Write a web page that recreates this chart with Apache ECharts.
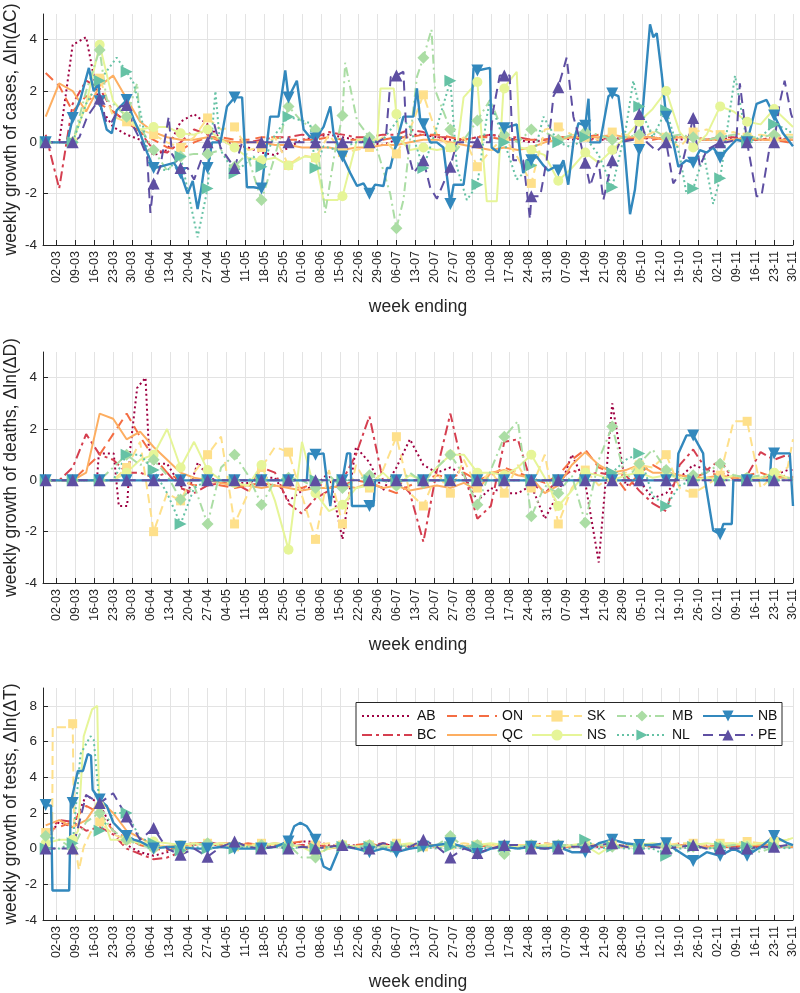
<!DOCTYPE html>
<html><head><meta charset="utf-8">
<script src="https://cdn.jsdelivr.net/npm/echarts@6/dist/echarts.min.js"></script>
<style>html,body{margin:0;padding:0;background:#fff}#chart{width:800px;height:993px}</style>
</head><body><div id="chart"></div>
<script>
// ---- tick labels (week ending) ----
const tickLabels = ['02-03','09-03','16-03','23-03','30-03','06-04','13-04','20-04','27-04','04-05','11-05','18-05','25-05','01-06','08-06','15-06','22-06','29-06','06-07','13-07','20-07','27-07','03-08','10-08','17-08','24-08','31-08','07-09','14-09','21-09','28-09','05-10','12-10','19-10','26-10','02-11','09-11','16-11','23-11','30-11'];
// day offsets (relative to 02-03) of the sampled values
const sampleDays = [-4,1,6,11,16,21,26,31,36,41,46,51,56,61,66,71,76,81,86,91,96,101,106,111,116,121,126,131,136,141,146,151,156,161,166,171,176,181,186,191,196,201,206,211,216,221,226,231,236,241,246,251,256,261,266,271,273];
const provinces = ['AB','BC','ON','QC','SK','NS','MB','NL','NB','PE'];
const yTicksA = [-4,-2,0,2,4];
const yTicksT = [-4,-2,0,2,4,6,8];

// ---- weekly growth of cases ----
const cases_AB = [0,0,3.8,4.1,1.4,0.6,0.3,0.1,-0.5,-0.3, 0.8,1.1,0.7,0.1,-0.1,-0.2,-0.4,-0.5,-0.2,0.1, 0.2,0.3,0.2,0.1,0.0,-0.1,0.1,0.3,0.3,0.2, 0.1,0.1,0.2,0.3,0.2,0.1,0.0,0.1,0.2,0.1, 0.2,0.1,0.1,0.2,0.1,0.2,0.1,0.1,0.2,0.1, 0.1,0.2,0.1,0.1,0.2,0.1,0.1];
const cases_BC = [0.3,-1.8,1.5,2.4,2.1,1.2,0.8,0.4,-0.3,-0.4, 0.0,0.5,0.3,0.0,0.0,0.0,0.1,0.2,0.2,0.3, 0.2,0.4,0.3,0.2,0.2,0.3,0.3,0.5,0.4,0.2, 0.2,0.1,0.2,0.3,0.2,0.2,0.1,0.1,0.2,0.2, 0.1,0.1,0.2,0.1,0.2,0.2,0.1,0.2,0.2,0.1, 0.2,0.2,0.1,0.1,0.2,0.1,0.1];
const cases_ON = [2.7,2.2,1.2,1.8,1.5,1.2,0.8,0.4,0.1,-0.2, -0.3,0.0,0.2,0.2,0.1,0.1,0.2,0.2,0.1,0.1, 0.1,0.2,0.1,0.1,0.1,0.1,0.2,0.2,0.3,0.3, 0.2,0.1,0.2,0.2,0.1,0.1,0.1,0.1,0.2,0.2, 0.2,0.3,0.2,0.2,0.2,0.1,0.2,0.2,0.1,0.1, 0.1,0.1,0.1,0.1,0.1,0.0,0.0];
const cases_QC = [1.0,2.3,2.0,1.2,2.2,2.6,1.7,0.8,0.4,0.2, 0.1,0.1,0.2,0.1,0.0,0.0,0.0,-0.1,-0.1,-0.2, -0.2,-0.2,-0.3,-0.2,-0.2,-0.1,-0.1,0.0,0.1,0.1, 0.0,-0.1,-0.2,-0.3,-0.2,-0.3,-0.2,0.0,0.1,0.2, 0.2,0.2,0.3,0.2,0.2,0.2,0.1,0.2,0.2,0.1, 0.1,0.1,0.2,0.1,0.1,0.1,0.1];
const cases_SK = [0,0,0,1.5,2.5,1.0,0.8,0.5,0.3,0.0, -0.2,0.2,0.95,0.5,0.6,-0.3,-0.2,0.2,-0.9,-0.5, -0.6,0.3,-0.4,-0.3,-0.2,0.2,-0.45,0.5,1.85,0.3, -0.2,0.2,-0.95,-0.3,0.2,-0.6,-1.6,0.5,0.6,0.3, 0.2,0.1,0.4,0.3,0.1,0.4,0.2,-0.2,0.4,0.5, 0.3,0.4,0.2,0.3,0.2,0.3,0.3];
const cases_NS_days = [-5,-4,1,6,11,16,21,26,31,36,41,46,51,56,61,66,71,76,81,86,92,96,99,104,106,111.4,116,118.9,120.1,125,126,127.4,131,136,141,146,148.4,150.9,156,159.5,163.2,165.7,166,170.6,171.8,176,181,186,191,196,201,206,211,216,221,226,231,236,241,246,251,256,261,266,271,273];
const cases_NS = [0,0,0,0,1.5,3.8,1.6,1.0,0.5,0.6,0.6,0.35,0.3,0.5,0.1,-0.2,-0.6,-0.7,-0.6,-0.9,-0.55,-0.6,-2.25,-2.25,-2.1,0.1,0.1,0.1,2.1,2.1,1.1,0.1,-0.3,-0.2,-0.3,-0.2,-0.3,1.75,2.35,-2.3,-2.3,2.1,2.1,2.75,-0.2,-0.3,-0.5,-1.5,-1.0,-0.4,-0.8,-0.3,0.2,0.8,1.3,2.0,0.4,-0.2,0.3,1.4,1.2,0.8,0.7,1.3,0.8,0.6];
const cases_MB_days = [-5,-4,1,6,11,16,18.6,21,26,29.9,31,36,41,46,51,56,61,66,70.6,76,80.5,86,91,96,99.6,103,106,107,111.4,116,118.9,123.7,126,128.6,133.6,136,139,140.3,146,148.4,156,160.7,166,171,176,181,186,191,196,201,206,211,216,221,226,231,236,241,246,251,256,261,266,271,273];
const cases_MB = [0,0,0,0,2.0,3.6,1.65,1.5,1.0,2.3,0.6,-0.3,-1.1,-0.55,-0.45,-0.45,-0.3,-0.95,-0.45,-2.25,-0.7,1.4,0.8,0.5,-2.75,-0.5,1.05,3.1,0.85,0.2,-0.3,-2.0,-3.35,-2.25,2.55,3.3,4.4,2.05,0.5,-0.3,0.85,1.65,0.3,0.0,0.5,0.4,0.1,0.3,0.4,0.3,0.1,0.2,0.3,0.5,0.2,0.3,0.2,0.1,0.2,0.3,0.2,0.2,0.3,0.2,0.2];
const cases_NL_days = [-5,-4,1,6,11,16,22.3,26,28.6,31,34.8,41,46,52.3,56,58.9,60.8,66,73,76,81,86,94,96,99,104,111,116,121,127.4,131,136,141,146,148.4,152.1,156,159.5,160.7,166,170.6,176,180.5,186,191,196,201,206,211,213.8,216,221,226,231,233.5,236,240,243.4,246,251.5,256,261,266,271,273];
const cases_NL = [0,0,0,0,1.5,2.4,3.3,2.75,2.3,1.25,-0.95,-1.1,-0.55,-3.7,-1.8,2.0,-0.3,-1.2,-0.55,-0.95,0.3,1.0,0.75,-1.0,-0.15,-0.3,0.0,0.0,0.1,1.0,0.6,-1.0,0.6,2.4,-0.95,-2.25,-1.65,1.0,1.65,0.0,-1.45,-0.9,1.0,0.0,-0.2,0.2,-0.5,-1.75,0.5,2.4,1.4,0.2,1.25,-0.5,-2.0,-1.8,-0.5,-2.4,-1.4,2.6,0.0,0.2,0.7,0.5,0.3];
const cases_NB_days = [-5,-4,1,4,6,8.9,12,13.8,15.6,16,18.6,20.5,22.3,26,28.6,31,33.6,36,38.5,43.5,46,48.6,50.5,52.3,53.6,54.8,56,57.7,60.8,63.2,66,68.8,70.6,73,76,79.2,82.3,84.8,86,89.1,91.6,94,96,99,101.5,102.7,106,108.9,111.4,113.8,116,118.1,121.2,122.5,123.7,126,128.6,132.3,133.6,134.8,136,138.5,141,143.4,146,147.2,150.9,153.3,154.6,156,160.7,161.3,163.8,166,170.6,171.8,173,174.3,176,178,180.5,182.3,184.8,186,187.9,189.7,191.6,193.5,196,197.2,197.8,201.5,204.6,206,208.3,210.1,212.6,214.4,216,217.5,220,221.2,222.5,224.3,226,228.6,230.5,233.5,236,238.5,241,243.4,246,248.4,252,256,259.5,263.2,266,269.3,273];
const cases_NB = [0,0,0,0,0.95,1.7,2.9,2.0,2.3,1.6,0.5,0.35,1.25,1.65,0.9,0.35,-0.4,-1.0,-0.95,-0.8,-1.2,-2.0,-1.5,-2.6,-1.85,-0.95,-1.0,0,0,1.4,1.75,1.75,-1.75,-1.75,-1.8,1.0,1.0,2.8,1.75,2.4,0.5,0.2,0.15,0.6,1.4,0.35,-0.55,-1.2,-1.7,-1.6,-2.0,-1.65,-1.7,-1.0,-1.0,0,1.0,1.0,2.1,0.9,0.7,0,0,-0.2,-2.4,-1.65,-1.65,0.35,2.9,2.8,2.9,-0.2,-0.4,0.55,0.7,-0.4,-1.2,-0.7,-0.7,-0.55,-0.9,-1.1,-0.95,-1.1,-0.7,-1.65,0,0.75,0.65,1.7,0,0,1.8,1.9,1.8,0.35,-2.8,-1.85,-0.3,1.5,4.6,4.1,4.25,2.7,1.0,0,-0.95,-0.7,-0.8,-0.3,-0.4,-0.2,-0.6,-0.3,0.1,0,1.5,1.65,1.05,0.35,-0.15];
const cases_PE_days = [-5,-4,6,8.5,11.4,16,18.6,20.5,23.6,26,28.6,31,33.6,34.8,36,38.5,41.6,42.8,46,48.6,51,56,58.5,60.8,66,68.8,76,86,96,106,116,118.9,122.1,123.9,126,128.6,129.9,132.3,136,138.5,141,146,148.4,156,160.7,161.9,164.3,166,168,169.3,173,174.3,175.5,176,179.3,181.7,184.2,186,189.1,191.6,194,196,197.8,200.9,202.7,206,208.8,213.8,216,218.8,222.5,226,228.6,231.1,236,237.2,238.5,241,246,248.4,252,253.3,256,259.5,261.3,264.4,266,268,269.9,272.3,273];
const cases_PE = [0,0,0,0.2,1.0,1.7,0.75,0.8,1.4,1.45,0.6,0.1,-0.55,-2.75,-1.6,-0.95,1.0,-0.45,-1.0,-1.0,-1.45,0,0.7,-0.2,-1.0,0,0,0,0,0,0,0,0.2,2.55,2.6,2.75,-0.2,-1.2,-0.7,-1.75,-2.2,-0.95,0,0,0,1.25,2.6,2.6,2.6,-0.7,-0.7,-1.85,-3.0,-2.1,-2.1,-0.7,1.8,2.15,3.3,1.0,0.1,-0.8,-1.7,-0.7,-2.25,-0.7,0,0.1,1.1,0,-0.35,0,-1.6,-1.2,0.95,0,-0.95,-0.3,0,0,0.1,2.3,0,-2.1,-2.1,-0.15,0,1.5,2.4,1.1,0.9];

// ---- weekly growth of deaths ----
const deaths_AB_days = [-5,-4,1,6,11,15,15.7,21.2,23.1,26.2,27.4,29.9,33,34.2,36,41,46.3,48.7,52.4,56,61,66,71,76,81,86,91,96,101,106,111,116,121,126,131,136,141,146,151,156,161,166,171,176,181,186,191,196,201,206,211,216,221,226,231,236,241,246,251,256,261,266,271,273];
const deaths_AB = [0,0,0,0,0,0,1.05,1.05,-1.0,-1.0,1.3,3.6,4.0,1.3,0.65,0.65,-0.25,-0.5,0.7,0.15, -0.1,-0.1,-0.1,0.1,0.1,-0.8,-0.4, -0.2,0.3,-2.3,1.3,0.7,-0.4,0.5,1.6,0.6,0.3, 0.5,0.2,-0.8,-0.3,-0.5,-0.5,-0.2,-1.5,-0.5,1.0, -0.1,-3.2,3.0,-0.2,0.0,-0.7,-0.5,0.1,0.6,0.4, 0.3,0.1,0.1,0.1,0.2,0.4,0.4];
const deaths_BC = [0,0,0.5,1.8,1.0,0.8,0.3,0.3,0.1,0.3, -0.3,-0.5,-0.2,-0.1,-0.1,-0.4,0.5,0.3,-0.9,-1.3, -0.7,-0.4,0.0,1.0,2.5,0.0,0.1,-0.5,-2.4,0.4, 2.6,0.3,-1.5,-1.0,1.5,1.6,-0.1,-0.5,0.0,0.4, 0.2,0.3,0.2,0.2,-0.4,-0.9,-1.2,0.6,1.2,0.4, 0.8,0.0,0.2,1.1,0.8,1.0,0.8];
const deaths_ON = [0,0,0,0.5,1.0,1.8,2.6,1.7,0.9,0.3, 0.0,-0.2,-0.1,-0.2,-0.3,-0.2,-0.1,-0.2,-0.2,-0.3, -0.1,-0.3,-0.2,0.0,-0.1,-0.3,-0.5,-0.2,0.0,0.2, 0.1,0.3,0.0,0.2,0.5,0.3,0.1,-0.1,0.2,0.8, 1.2,0.5,0.3,-0.4,0.3,0.6,0.3,0.2,0.1,0.3, 0.2,0.1,0.2,0.3,0.1,0.2,0.1];
const deaths_QC = [0,0,0,0.3,2.6,2.4,1.6,1.9,1.3,0.8, 0.3,0.1,0.0,-0.1,-0.2,-0.2,-0.3,-0.2,-0.3,-0.4, -0.3,-0.3,-0.2,-0.3,-0.1,-0.3,-0.2,-0.4,-0.3,-0.2, -0.3,-0.1,-0.4,0.3,0.4,0.2,0.1,-0.5,-0.2,0.6, 1.1,0.6,0.3,0.4,0.6,0.3,0.3,0.2,0.1,0.1, 0.2,0.1,0.1,0.1,0.1,0.1,0.1];
const deaths_SK = [0,0,0,0,0,0,0.5,1.5,-2.0,-0.5, -0.8,0.3,1.0,1.7,-1.7,-0.5,0.5,1.3,1.1,-0.6, -2.3,0.4,-1.7,0.6,-0.3,0.4,1.7,-0.5,-1.0,0.3, -0.5,0.8,-0.3,0.4,-0.5,0.6,-0.3,1.0,-1.7,-0.3, 0.4,-0.2,0.2,0.3,0.6,0.5,1.0,-0.3,-0.5,-0.2, 0.2,2.3,2.3,-0.3,0.2,0.5,1.6];
const deaths_NS = [0,0,0,0,0,0,0.3,0.8,1.0,2.0, 0.5,1.5,0.4,0.0,-0.1,-0.2,0.6,-0.8,-2.7,1.5, -0.5,-1.2,-0.95,-0.3,-0.2,0.3,-0.2,0.2,0.0,0.5, 1.0,1.0,0.3,0.3,0.2,0.5,1.0,0.1,-1.0,-0.4, 0.3,0.2,0.0,0.2,0.3,0.1,0.2,0.1,0.0,0.1, 0.0,0.2,0.1,0.1,0.3,0.1,0.0];
const deaths_MB = [0,0,0,0,0,0.5,1.0,0.6,0.8,0.2, -0.75,-0.2,-1.7,0.5,1.0,0.2,-0.95,0.0,0.1,0.0, -0.3,0.2,-0.3,0.0,0.2,0.0,-0.2,0.3,-0.1,0.5, 1.0,0.2,-0.95,0.4,1.7,2.3,-1.4,-0.2,-0.5,0.2, -1.65,0.8,2.1,0.0,0.65,1.2,0.4,0.0,0.2,0.3, 0.65,0.2,0.1,0.2,0.0,0.1,0.0];
const deaths_NL = [0,0,0,0,0,0,1.0,1.0,0.4,-0.5, -1.7,-0.3,0,0,0,0,0,0,0,0, 0,0,0,0,0,0,0,0,0,0, 0,0,0,0,0,0,0,0,0,0, 0,0,0.3,0.8,1.05,-0.6,-1.0,-0.2,0,0, 0,0,0,0,0,0,0];
const deaths_NB_days = [-5,-4,6,16,26,36,46,56,66,76,86,92.8,93.4,96,99,100.2,101.5,102.7,106,107.7,108.9,109.5,116,117.5,118.1,126,136,146,156,166,176,186,196,206,216,226,229.9,230.5,233.5,236,239.7,240.4,243.4,246,247.2,250.3,250.9,256,264.4,265,266,271.8,273];
const deaths_NB = [0,0,0,0,0,0,0,0,0,0,0,0,1.05,1.0,1.05,0,-1.0,0,0,1.05,1.05,-1.0,-1.0,-1.0,0,0,0,0,0,0,0,0,0,0,0,0,0,1.05,1.75,1.75,1.05,0,-1.95,-2.1,-1.7,-1.7,0,0,0,1.05,1.05,1.05,-1.0];
const deaths_PE = [0,0,0,0,0,0,0,0,0,0, 0,0,0,0,0,0,0,0,0,0, 0,0,0,0,0,0,0,0,0,0, 0,0,0,0,0,0,0,0,0,0, 0,0,0,0,0,0,0,0,0,0, 0,0,0,0,0,0,0];

// ---- weekly growth of tests ----
const tests_AB = [0.5,1.5,1.2,3.0,2.5,1.0,0.2,-0.2,-0.4,-0.2, 0.2,0.3,0.2,0.2,0.3,0.2,0.2,0.1,0.2,0.4, 0.4,0.2,0.1,0.2,0.1,0.2,0.2,0.1,0.2,0.1, 0.2,0.1,0.1,0.2,0.2,0.1,0.1,0.2,0.1,0.2, 0.1,0.1,0.2,0.1,0.2,0.1,0.1,0.2,0.1,0.1, 0.1,0.1,0.1,0.1,0.2,0.1,0.1];
const tests_BC = [0.8,1.6,1.5,1.0,1.2,0.8,0.0,-0.3,-0.6,-0.5, -0.2,0.2,0.4,0.2,0.3,0.2,0.1,0.2,0.1,0.2, 0.2,0.1,0.2,0.1,0.2,0.3,0.1,0.2,0.2,0.1, 0.2,0.1,0.2,0.1,0.2,0.1,0.2,0.3,0.2,0.1, 0.2,0.1,0.1,0.2,0.1,0.2,0.1,0.3,0.1,0.2, 0.1,0.1,0.2,0.1,0.1,0.1,0.2];
const tests_ON = [1.0,1.2,1.5,2.4,2.0,1.0,0.6,0.2,0.0,-0.1, 0.1,0.3,0.3,0.2,0.2,0.3,0.2,0.2,0.3,0.4, 0.2,0.1,0.2,0.2,0.3,0.1,0.2,0.2,0.1,0.2, 0.1,0.2,0.1,0.2,0.2,0.1,0.1,0.2,0.1,0.1, 0.1,0.2,0.1,0.2,0.2,0.1,0.1,0.1,0.2,0.1, 0.1,0.1,0.1,0.2,0.1,0.1,0.1];
const tests_QC = [1.3,1.6,1.2,1.6,2.7,2.0,1.0,0.6,0.2,0.1, 0.2,0.3,0.2,0.3,0.3,0.2,0.2,0.3,0.2,0.1, 0.1,0.0,0.1,0.1,0.2,0.1,0.1,0.2,0.2,0.2, 0.2,0.1,0.2,0.2,0.1,0.2,0.2,0.1,0.2,0.1, 0.2,0.2,0.1,0.1,0.2,0.2,0.2,0.2,0.1,0.1, 0.1,0.2,0.2,0.2,0.2,0.1,0.1];
const tests_SK_days = [-5,-4,-1.6,-1.4,4.7,6,6.6,8.3,10.1,12.6,16,21,26,31,36,41,46,51,56,61,66,71,76,81,86,91,96,101,106,111,116,121,126,131,136,141,146,151,156,161,166,171,176,181,186,191,196,201,206,211,216,221,226,231,236,241,246,251,256,261,266,271,273];
const tests_SK = [0.9,0.9,0.6,6.8,6.8,7.0,0.5,-1.2,0.1,0.9,1.5, 0.8,0.5,0.3,0.1,0.2, 0.0,0.2,0.3,0.2,0.1,0.2,0.3,0.2,0.2,0.1, 0.2,0.3,0.2,0.1,0.2,0.2,0.3,0.2,0.1,0.2, 0.2,0.3,0.2,0.2,0.1,0.2,0.2,0.3,0.2,0.2, 0.3,0.2,0.2,0.2,0.3,0.2,0.2,0.3,0.3,0.2, 0.3,0.3,0.4,0.3,0.4,0.5,0.6];
const tests_NS_days = [-5,-4,1,6,8,10.1,13.2,15.1,15.7,16,20,26,31,36,41,46,51,56,61,66,71,76,81,86,91,96,101,106,111,116,121,126,131,136,141,146,151,156,161,166,171,176,181,186,191,196,201,206,211,216,221,226,231,236,241,246,251,256,261,266,271,273];
const tests_NS = [0.3,0.3,0.5,0.5,1.0,6.3,7.8,8.0,3.3,2.4,0.5, 0.5,0.3,0.4,0.3, 0.2,0.3,0.2,0.3,0.2,0.1,0.2,0.3,0.2,0.1, -0.3,0.0,0.2,0.1,0.2,0.1,0.2,0.3,0.2,0.1, 0.2,0.1,0.2,0.3,0.2,0.1,0.2,0.2,0.1,0.2, 0.2,-0.3,0.2,0.1,0.2,0.3,0.2,0.1,0.2,0.3, 0.2,0.3,0.2,0.3,0.4,0.5,0.6];
const tests_MB = [0.7,0.5,0.0,1.5,2.0,1.0,0.5,0.2,0.0,0.1, -0.1,0.2,0.3,0.1,0.2,0.1,0.2,0.1,0.2,-0.5, -0.5,0.1,0.2,0.1,0.2,0.1,0.1,0.2,0.3,0.2, 0.7,0.1,0.2,0.1,-0.3,0.1,0.2,0.1,0.2,0.2, 0.1,0.2,0.1,0.2,0.1,0.2,0.1,0.2,0.1,0.0, 0.1,0.2,0.1,-0.2,0.1,0.1,0.2];
const tests_NL_days = [-5,-4,1,6,8.9,12.6,13.8,15.7,16,21.2,26,31,36,41,46,51,56,61,66,71,76,81,86,91,96,101,106,111,116,121,126,131,136,141,146,151,156,161,166,171,176,181,186,191,196,201,206,211,216,221,226,231,236,241,246,251,256,261,266,271,273];
const tests_NL = [0,0,0,0.3,5.3,6.3,6.1,2.9,1.0,2.0,2.0, 0.6,0.3,0.0, -0.1,0.1,0.0,0.1,0.0,0.1,0.0,0.1,0.0,0.1, 0.0,0.1,0.1,0.0,0.1,0.0,0.1,0.0,0.1,0.0, 0.1,0.0,0.1,0.0,0.1,0.0,0.1,0.0,0.1,0.0, 0.5,0.0,0.1,0.0,0.0,0.0,-0.4,0.0,0.1,0.0, 0.1,0.0,0.1,0.0,0.1,0.0,0.1];
const tests_NB_days = [-5,-4,-2,-1.5,4.7,5.3,6,7.9,9.8,11.6,12.8,13.4,16,18.6,21.1,23.6,26,28.6,31,36,41,46,51,56,61,66,71,76,81,86,88.1,90.4,92.8,96,99,101.5,105.2,111,116,121,126,131,136,141,146,151,156,161,166,171,176,181,186,191,196,201,206,211,216,221,226,231,236,241,246,251,256,261,266,271,273];
const tests_NB = [2.45,2.45,2.4,-2.35,-2.35,2.55,2.55,4.35,4.35,5.3,5.2,3.3,2.75,2.4,1.45,1.05,0.7,0.5,0.4,0.0,0.1,0.1,0.0,0.0,0.1,0.0,0.0,0.0,0.1,0.4,1.25,1.45,1.25,0.5,-1.0,-1.2,0.15,0.0,-0.2,0.0,-0.2,0.0,0.1,0.2,0.3,0.1,-0.3,0.0,0.1,0.0,0.1,0.0,0.1,-0.2,-0.2,0.3,0.5,0.3,0.2,0.2,0.3,-0.2,-0.7,-0.2,-0.4,0.0,-0.4,0.1,0.7,0.3,0.2];
const tests_PE = [0,0,0,3.0,2.55,3.1,1.8,0.5,1.15,0.0, -0.35,0.0,-0.45,0.1,0.4,0.1,0.0,0.1,0.0,0.1, 0.0,0.1,0.2,0.0,0.0,0.3,0.2,0.1,0.5,0.1, -0.5,0.0,-0.25,0.0,0.2,0.2,0.0,0.0,0.0,0.1, 0.1,0.2,0.3,0.1,0.0,0.1,0.0,0.1,0.2,0.0, 0.0,0.0,0.0,0.1,0.1,0.2,0.1];

const panels = [
  {AB:cases_AB,BC:cases_BC,ON:cases_ON,QC:cases_QC,SK:cases_SK,NS:cases_NS,MB:cases_MB,NL:cases_NL,NB:cases_NB,PE:cases_PE},
  {AB:deaths_AB,BC:deaths_BC,ON:deaths_ON,QC:deaths_QC,SK:deaths_SK,NS:deaths_NS,MB:deaths_MB,NL:deaths_NL,NB:deaths_NB,PE:deaths_PE},
  {AB:tests_AB,BC:tests_BC,ON:tests_ON,QC:tests_QC,SK:tests_SK,NS:tests_NS,MB:tests_MB,NL:tests_NL,NB:tests_NB,PE:tests_PE}
];
const panelDays = [
  {NS:cases_NS_days, MB:cases_MB_days, NL:cases_NL_days, NB:cases_NB_days, PE:cases_PE_days},
  {AB:deaths_AB_days, NB:deaths_NB_days},
  {SK:tests_SK_days, NS:tests_NS_days, NL:tests_NL_days, NB:tests_NB_days}
];
const yNames = ['weekly growth of cases, \u0394ln(\u0394C)','weekly growth of deaths, \u0394ln(\u0394D)','weekly growth of tests, \u0394ln(\u0394T)'];

// ---- styling ----
const styles = {
  AB:{color:'#9e0142', type:[2,3], symbol:'none'},
  BC:{color:'#d53e4f', type:[10,4,3,4], symbol:'none'},
  ON:{color:'#f46d43', type:[10,6], symbol:'none'},
  QC:{color:'#fdae61', type:'solid', symbol:'none'},
  SK:{color:'#fee08b', type:[9,5], symbol:'rect', size:9},
  NS:{color:'#e6f598', type:'solid', symbol:'circle', size:10},
  MB:{color:'#abdda4', type:[9,4,2,4], symbol:'diamond', size:12},
  NL:{color:'#66c2a5', type:[2,3], symbol:'triangle', rotate:-90, size:12},
  NB:{color:'#3288bd', type:'solid', symbol:'triangle', rotate:180, size:12},
  PE:{color:'#5e4fa2', type:[10,6], symbol:'triangle', size:12}
};
const FONT = 'Liberation Sans, Arial, Helvetica, sans-serif';
const TXT = '#262626';
const gridDefs = [{top:14,height:231},{top:352,height:231},{top:688,height:232}];
const tickDays = tickLabels.map((_,k)=>7*k);
const isMarkerDay = d => Number.isInteger(d) && (d+4)%10===0 && d>=-4 && d<=266;

const grids = gridDefs.map(g=>({left:43, right:7, top:g.top, height:g.height, containLabel:false, outerBoundsMode:'none'}));
const xAxes = gridDefs.map((g,i)=>({
  type:'value', gridIndex:i, min:-5, max:273,
  axisLine:{show:true,onZero:false,lineStyle:{color:TXT,width:1}},
  axisTick:{show:true,inside:true,length:5,customValues:tickDays,lineStyle:{color:TXT,width:1}},
  axisLabel:{customValues:tickDays,rotate:90,margin:6,fontSize:12.5,color:TXT,fontFamily:FONT,
    padding:[11,0,0,0],
    formatter:v=>tickLabels[Math.round(v/7)]},
  splitLine:{show:true,lineStyle:{color:'#e3e3e3',width:1}},
  name:'week ending', nameLocation:'middle', nameGap:53, nameMoveOverlap:false,
  nameTextStyle:{fontSize:17.5,color:TXT,fontFamily:FONT}
}));
const yAxes = gridDefs.map((g,i)=>{
  const ticks = i===2 ? yTicksT : yTicksA;
  return {
    type:'value', gridIndex:i, min:-4, max: i===2 ? 9 : 5,
    axisLine:{show:true,onZero:false,lineStyle:{color:TXT,width:1}},
    axisTick:{show:true,inside:true,length:5,customValues:ticks,lineStyle:{color:TXT,width:1}},
    axisLabel:{customValues:ticks,margin:6,fontSize:13.5,color:TXT,fontFamily:FONT},
    splitLine:{show:true,lineStyle:{color:'#e3e3e3',width:1}},
    name:yNames[i], nameLocation:'middle', nameRotate:90, nameGap:23, nameMoveOverlap:false,
    nameTextStyle:{fontSize:17.5,color:TXT,fontFamily:FONT}
  };
});

const series = [];
panels.forEach((panel,g)=>{
  provinces.forEach(p=>{
    const st = styles[p];
    const days = panelDays[g][p] || sampleDays;
    series.push({
      type:'line', name:p, xAxisIndex:g, yAxisIndex:g,
      data: days.map((d,i)=>[d, panel[p][i]]),
      symbol: st.symbol, symbolRotate: st.rotate||0,
      symbolSize: (v)=> isMarkerDay(v[0]) ? (st.size||0) : 0,
      showSymbol: st.symbol!=='none',
      lineStyle:{color:st.color,width:p==='NB'?2.4:2,type:st.type},
      itemStyle:{color:st.color},
      silent:true, animation:false, z:2
    });
  });
});

// legend: 5 columns x 2 rows
const legendCols = [361,446,531,616,702];
const legendRows = [709,728];
const legendLayout = [['AB','BC'],['ON','QC'],['SK','NS'],['MB','NL'],['NB','PE']];
const legends = [];
legendLayout.forEach((col,ci)=>col.forEach((p,ri)=>{
  legends.push({
    data:[p], left:legendCols[ci], top:legendRows[ri], padding:0,
    itemWidth:50, itemHeight:14, selectedMode:false, z:4,
    textStyle:{fontSize:14,color:'#111',fontFamily:FONT},
    itemStyle: styles[p].symbol==='none' ? {opacity:0} : {}
  });
}));

const chart = echarts.init(document.getElementById('chart'),null,{renderer:'canvas'});
chart.setOption({
  animation:false, backgroundColor:'#fff',
  grid:grids, xAxis:xAxes, yAxis:yAxes, series:series, legend:legends,
  graphic:[{type:'rect',z:3,shape:{x:356,y:702.5,width:426,height:43},style:{fill:'#fff',stroke:TXT,lineWidth:1}}]
});
</script></body></html>
